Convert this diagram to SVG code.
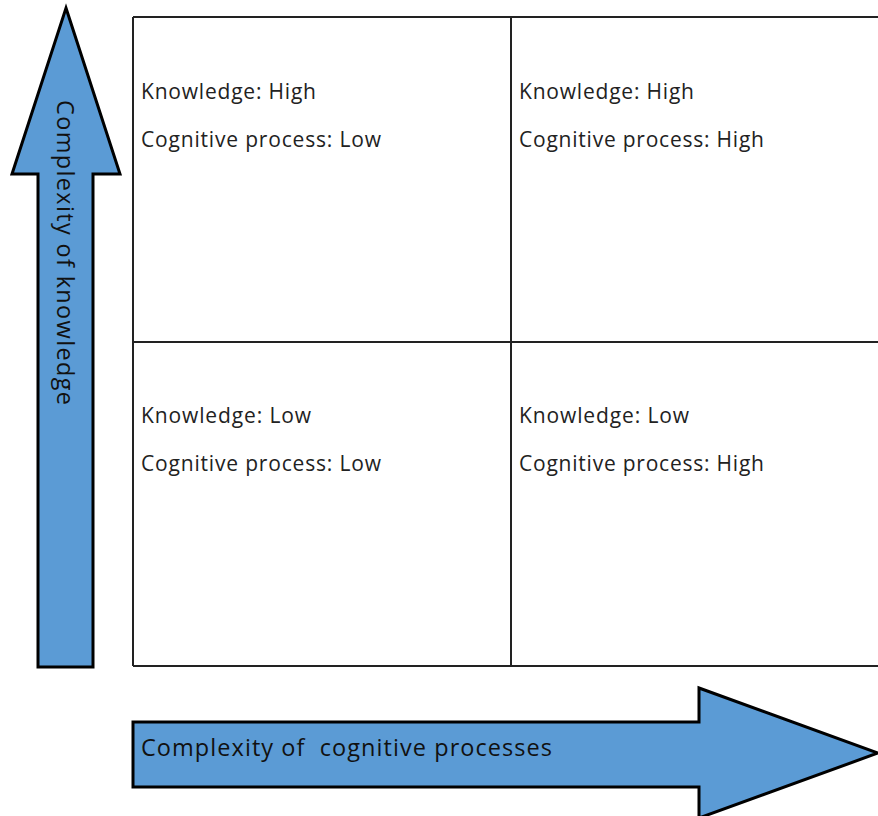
<svg xmlns="http://www.w3.org/2000/svg" width="878" height="816" viewBox="0 0 878 816">
  <style>
    .arrow { fill: #5b9bd5; stroke: #000; stroke-width: 3; stroke-linejoin: miter; }
    .cell { fill: #fff; stroke: #222; stroke-width: 2; }
    .lbl { font-family: "Open Sans", "Liberation Sans", Arial, sans-serif; font-size: 21px; fill: #222; }
    .axis { font-family: "Open Sans", "Liberation Sans", Arial, sans-serif; font-size: 23.5px; fill: #111; }
  </style>

  <!-- 2x2 grid -->
  <g id="grid">
    <path class="cell" d="M133,17 H880 M133,342 H880 M133,666 H880 M133,17 V666 M511,17 V666"/>
  </g>

  <g id="cell-high-low">
    <text class="lbl" x="141" y="99" textLength="175">Knowledge: High</text>
    <text class="lbl" x="141" y="147" textLength="240">Cognitive process: Low</text>
  </g>
  <g id="cell-high-high">
    <text class="lbl" x="519" y="99" textLength="175">Knowledge: High</text>
    <text class="lbl" x="519" y="147" textLength="245">Cognitive process: High</text>
  </g>
  <g id="cell-low-low">
    <text class="lbl" x="141" y="423" textLength="170">Knowledge: Low</text>
    <text class="lbl" x="141" y="471" textLength="240">Cognitive process: Low</text>
  </g>
  <g id="cell-low-high">
    <text class="lbl" x="519" y="423" textLength="170">Knowledge: Low</text>
    <text class="lbl" x="519" y="471" textLength="245">Cognitive process: High</text>
  </g>

  <!-- vertical axis arrow -->
  <g id="axis-knowledge">
    <path class="arrow" d="M66,8 L120,174 H93 V667 H38 V174 H12 Z"/>
    <text class="axis" transform="translate(57,100) rotate(90)" textLength="305">Complexity of knowledge</text>
  </g>

  <!-- horizontal axis arrow -->
  <g id="axis-cognitive">
    <path class="arrow" d="M133,722 H699 V688 L878,753 L699,818 V787 H133 Z"/>
    <text class="axis" x="141" y="756" textLength="411" xml:space="preserve">Complexity of  cognitive processes</text>
  </g>
</svg>
